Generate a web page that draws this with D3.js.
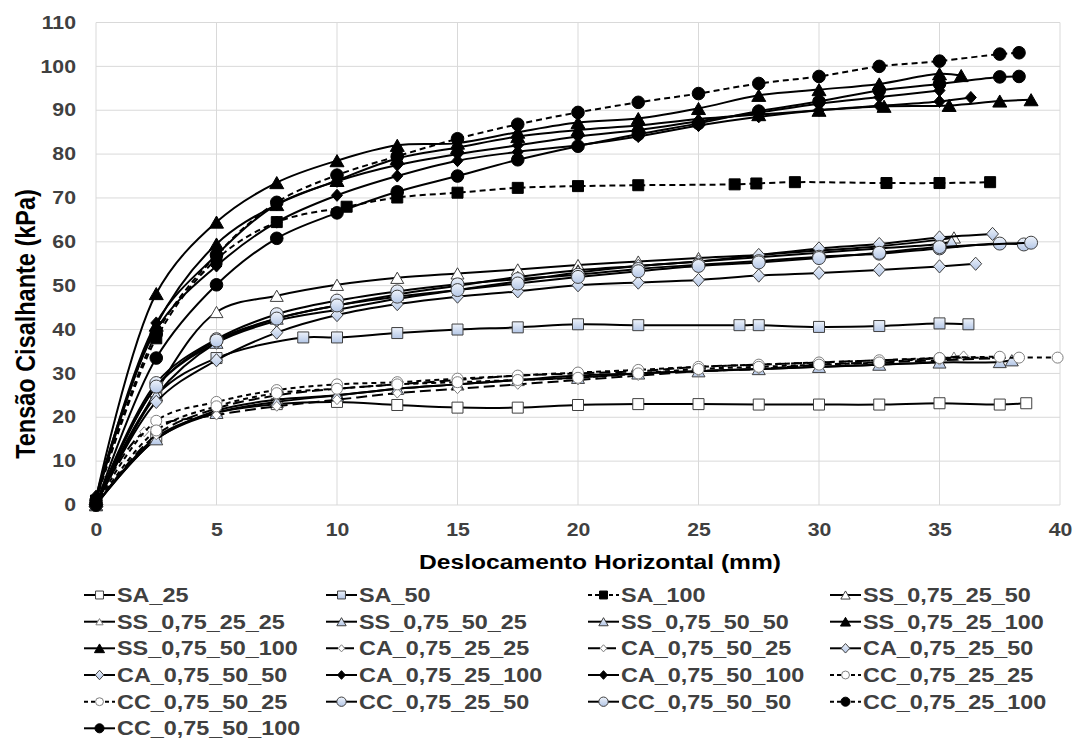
<!DOCTYPE html>
<html><head><meta charset="utf-8">
<script src="https://cdn.jsdelivr.net/npm/d3@7"></script>
<style>body{margin:0;background:#fff}svg{display:block}</style>
</head><body>
<svg id="chart" width="1074" height="740"></svg>
<script>
// ---------- DATA (x = deslocamento mm, y = tensão kPa) ----------
const SA_25 = [[0,0],[2.5,15.5],[5,21],[7.5,23],[10,23.5],[12.5,22.8],[15,22.2],[17.5,22.2],[20,22.8],[22.5,23],[25,23],[27.5,22.9],[30,22.9],[32.5,22.9],[35,23.2],[37.5,22.9],[38.6,23.2]];
const SA_50 = [[0,0],[2.5,25],[5,33.5],[8.6,38.2],[10,38.2],[12.5,39.2],[15,40],[17.5,40.5],[20,41.2],[22.5,41],[26.7,41],[27.5,41],[30,40.6],[32.5,40.8],[35,41.4],[36.2,41.2]];
const SA_100 = [[0,1],[2.5,38],[5,56],[7.5,64.5],[10.4,68],[12.5,70.1],[15,71.2],[17.5,72.3],[20,72.7],[22.5,72.9],[26.5,73.1],[27.4,73.3],[29,73.6],[32.8,73.4],[35,73.4],[37.1,73.6]];
const SS_0_75_25_50 = [[0,0],[2.5,26],[5,44],[7.5,47.7],[10,50.2],[12.5,51.8],[15,52.8],[17.5,53.7],[20,54.7],[22.5,55.5],[25,56.3],[27.5,57],[30,58],[32.5,59],[35,60.5],[35.6,61]];
const SS_0_75_25_25 = [[0,0],[2.5,15],[5,21.5],[7.5,24],[10,25],[12.5,26.5],[15,27.5],[17.5,28.5],[20,29.5],[22.5,30],[25,30.5],[27.5,31],[30,31.5],[32.5,32],[35,32.8],[35.6,33.9]];
const SS_0_75_50_25 = [[0,0],[2.5,15],[5,21],[7.5,23.5],[10,25],[12.5,26.5],[15,27.5],[17.5,28.5],[20,29],[22.5,30],[25,30.5],[27.5,31],[30,31.5],[32.5,32],[35,32.5],[37.5,32.6],[38,33]];
const SS_0_75_50_50 = [[0,0],[2.5,25],[5,37],[7.5,42.5],[10,45.5],[12.5,48],[15,50],[17.5,52],[20,53.5],[22.5,54.5],[25,55.5],[27.5,56.5],[30,57.5],[32.5,58.5],[35,59.5],[35.5,60]];
const SS_0_75_25_100 = [[0,1.5],[2.5,48.2],[5,64.5],[7.5,73.5],[10,78.5],[12.5,82],[15,82.5],[17.5,85],[20,87.2],[22.5,88.1],[25,90.4],[27.5,93.4],[30,94.7],[32.5,96],[35,98.3],[35.9,97.9]];
const SS_0_75_50_100 = [[0,1],[2.5,41],[5,59.5],[7.5,68.5],[10,74],[12.5,79],[15,81.5],[17.5,84],[20,85.5],[22.5,86.5],[25,88],[27.5,89],[30,90],[32.7,90.9],[35.4,91.1],[37.5,92.1],[38.8,92.4]];
const CA_0_75_25_25 = [[0,0],[2.5,16],[5,22],[7.5,25],[10,26.5],[12.5,27.5],[15,28.5],[17.5,29.5],[20,30],[22.5,30.5],[25,31.5],[27.5,32],[30,32.5],[32.5,33],[35,33.5],[36,34]];
const CA_0_75_50_25 = [[0,0],[2,16.7],[5,20.5],[7.5,22.5],[10,24],[12.5,25.5],[15,26.5],[17.5,27.5],[20,28.5],[22.5,29.5],[25,30.5],[27.5,31],[30,32],[32.5,32.5],[35,33],[37.5,33.5]];
const CA_0_75_25_50 = [[0,0],[2.5,27],[5,37],[7.5,42],[10,44.5],[12.5,47],[15,49],[17.5,51],[20,53],[22.5,54.5],[25,55.5],[27.5,57],[30,58.5],[32.5,59.5],[35,61],[37.2,61.8]];
const CA_0_75_50_50 = [[0,0],[2.5,23.5],[5,33],[7.5,39.3],[10,43.3],[12.5,45.8],[15,47.5],[17.5,48.7],[20,50.1],[22.5,50.7],[25,51.3],[27.5,52.3],[30,52.9],[32.5,53.6],[35,54.4],[36.5,55]];
const CA_0_75_25_100 = [[0,2],[2.5,40],[5,54.5],[7.5,64.5],[10,70.6],[12.5,75],[15,78.5],[17.5,80.5],[20,82],[22.5,84],[25,86.5],[27.5,88.5],[30,90],[32.5,91],[35,92],[36.3,92.9]];
const CA_0_75_50_100 = [[0,1],[2.5,41.5],[5,57],[7.5,68.5],[10,73.8],[12.5,77.5],[15,80],[17.5,82],[20,84],[22.5,85.5],[25,87.5],[27.5,89.5],[30,91.5],[32.5,93],[35,94.5]];
const CC_0_75_25_25 = [[0,0],[2.5,19.2],[5,23.5],[7.5,26.2],[10,27.5],[12.5,28],[15,28.8],[17.5,29.5],[20,30.2],[22.5,30.8],[25,31.5],[27.5,32],[30,32.5],[32.5,33],[35,33.5],[38.3,33.6],[39.9,33.6]];
const CC_0_75_50_25 = [[0,0],[2.5,17],[5,22.5],[7.5,25.5],[10,26.5],[12.5,27.5],[15,28],[17.5,28.5],[20,29],[22.5,30],[25,31],[27.5,31.5],[30,32],[32.5,32.5],[35,33.5],[37.5,33.8]];
const CC_0_75_25_50 = [[0,0],[2.5,27.8],[5,37.8],[7.5,43.5],[10,46.6],[12.5,48.7],[15,50.3],[17.5,51.5],[20,52.5],[22.5,53.8],[25,54.8],[27.5,55.6],[30,56.6],[32.5,57.3],[35,58.5],[37.5,59.6],[38.5,59.4]];
const CC_0_75_50_50 = [[0,0],[2.5,27],[5,37.5],[7.5,42.5],[10,45.5],[12.5,47.5],[15,49],[17.5,50.5],[20,52],[22.5,53.3],[25,54.5],[27.5,55.3],[30,56.3],[32.5,57.5],[35,58.8],[38.8,59.8]];
const CC_0_75_25_100 = [[0,1],[2.5,39],[5,57],[7.5,69],[10,75.2],[12.5,79.5],[15,83.5],[17.5,86.8],[20,89.5],[22.5,91.8],[25,93.8],[27.5,96.1],[30,97.7],[32.5,100],[35,101.2],[37.5,102.8],[38.3,103.1]];
const CC_0_75_50_100 = [[0,0],[2.5,33.5],[5,50.2],[7.5,60.8],[10,66.6],[12.5,71.4],[15,75],[17.5,78.7],[20,81.8],[22.5,84.5],[25,87],[27.5,89.8],[30,92],[32.5,94.5],[35,96],[37.5,97.6],[38.3,97.7]];

const seriesNames = ["SA_25","SA_50","SA_100","SS_0,75_25_50","SS_0,75_25_25","SS_0,75_50_25","SS_0,75_50_50","SS_0,75_25_100","SS_0,75_50_100","CA_0,75_25_25","CA_0,75_50_25","CA_0,75_25_50","CA_0,75_50_50","CA_0,75_25_100","CA_0,75_50_100","CC_0,75_25_25","CC_0,75_50_25","CC_0,75_25_50","CC_0,75_50_50","CC_0,75_25_100","CC_0,75_50_100"];
const seriesData = [SA_25,SA_50,SA_100,SS_0_75_25_50,SS_0_75_25_25,SS_0_75_50_25,SS_0_75_50_50,SS_0_75_25_100,SS_0_75_50_100,CA_0_75_25_25,CA_0_75_50_25,CA_0_75_25_50,CA_0_75_50_50,CA_0_75_25_100,CA_0_75_50_100,CC_0_75_25_25,CC_0_75_50_25,CC_0_75_25_50,CC_0_75_50_50,CC_0_75_25_100,CC_0_75_50_100];
const xTicks = [0,5,10,15,20,25,30,35,40];
const yTicks = [0,10,20,30,40,50,60,70,80,90,100,110];
const xTitle = "Deslocamento Horizontal (mm)";
const yTitle = "Tensão Cisalhante (kPa)";

// ---------- STYLES (separate from data) ----------
// shape, fill kind, marker radius, plot dash, legend dash
const styles = [
  ["square","open",5.5,null,null],["square","blue",5.5,null,null],["square","black",5.5,"6,4","4,3"],["triangle","open",6.5,null,null],
  ["triangle","openSmall",5,null,null],["triangle","blue",6.5,null,null],["triangle","blue",6.5,null,null],["triangle","black",7,null,null],
  ["triangle","black",7,null,null],["diamond","openSmall",4.5,"11,5","12,4"],["diamond","openSmall",4.5,"11,5","12,4"],["diamond","blue",6,null,null],
  ["diamond","blue",6,null,null],["diamond","black",5.5,null,null],["diamond","black",5.5,null,null],["circle","openSmall",5.5,"5,4","4,3"],
  ["circle","openSmall",5.5,"5,4","4,3"],["circle","blue",6.5,null,null],["circle","blue",6.5,null,null],["circle","black",6.3,"6,4","4,3"],
  ["circle","black",6.3,null,null]
];

const SX = 1.2; // horizontal stretch of the original picture
const FONT = "'Liberation Sans', Arial, sans-serif";
const svg = d3.select("#chart");
const defs = svg.append("defs");
const grad = defs.append("linearGradient").attr("id","blueG").attr("x1","0").attr("y1","0").attr("x2","0").attr("y2","1");
grad.append("stop").attr("offset","0").attr("stop-color","#eef3fb");
grad.append("stop").attr("offset","1").attr("stop-color","#b3c6e6");

const x = d3.scaleLinear().domain([0,40]).range([96,1060]);
const y = d3.scaleLinear().domain([0,110]).range([505,22.5]);

// grid
const grid = svg.append("g");
grid.selectAll("line.v").data(xTicks).join("line")
  .attr("x1",d=>x(d)).attr("x2",d=>x(d)).attr("y1",y(0)).attr("y2",y(110))
  .attr("stroke","#d9d9d9").attr("stroke-width",1);
grid.selectAll("line.h").data(yTicks).join("line")
  .attr("x1",x(0)).attr("x2",x(40)).attr("y1",d=>y(d)).attr("y2",d=>y(d))
  .attr("stroke","#d9d9d9").attr("stroke-width",1);

// axes (labels only)
const yAxis = svg.append("g").attr("transform",`translate(${x(0)},0)`)
  .call(d3.axisLeft(y).tickValues(yTicks).tickSize(0).tickPadding(20/SX));
const xAxis = svg.append("g").attr("transform",`translate(0,${y(0)})`)
  .call(d3.axisBottom(x).tickValues(xTicks).tickSize(0).tickPadding(18));
[yAxis,xAxis].forEach(a=>{
  a.select(".domain").remove();
  a.selectAll("text").attr("font-family",FONT).attr("font-weight","bold").attr("font-size","17.7px")
   .attr("fill","#404040");
});
yAxis.selectAll("text").attr("transform",`scale(${SX},1)`);
xAxis.selectAll("text").attr("transform",`scale(${SX},1)`);

function sText(px,py,str,size,anchor,color,rot){
  const g = svg.append("g").attr("transform",`translate(${px},${py}) scale(${SX},1)`+(rot?" rotate(-90)":""));
  return g.append("text").text(str).attr("text-anchor",anchor).attr("font-family",FONT)
    .attr("font-weight","bold").attr("font-size",size+"px").attr("fill",color);
}
sText(600,569,xTitle,20.5,"middle","#000",false);
sText(35,324,yTitle,23.5,"middle","#000",true);

function markerPath(shape,r){
  if(shape==="square") return `M${-r},${-r}h${2*r}v${2*r}h${-2*r}Z`;
  if(shape==="diamond") return `M0,${-r*1.1}L${r},0L0,${r*1.1}L${-r},0Z`;
  if(shape==="triangle"){const h=2*r*0.866;return `M0,${-h/2}L${r},${h/2}L${-r},${h/2}Z`;}
  return `M${-r},0A${r},${r} 0 1,0 ${r},0A${r},${r} 0 1,0 ${-r},0Z`;
}
function fillOf(k){return k==="black"?"#000":k==="blue"?"url(#blueG)":"#fff";}
function strokeOf(k){return k==="black"?"#000":k==="openSmall"?"#7f7f7f":"#404040";}

const line = d3.line().x(d=>x(d[0])).y(d=>y(d[1])).curve(d3.curveCatmullRom.alpha(0.5));
const plot = svg.append("g");
seriesData.forEach((data,i)=>{
  const [shape,kind,r,dash] = styles[i];
  const g = plot.append("g");
  g.append("path").datum(data).attr("d",line).attr("fill","none").attr("stroke","#000")
    .attr("stroke-width",2).attr("stroke-dasharray",dash);
  g.selectAll("path.m").data(data).join("path").attr("class","m")
    .attr("transform",d=>`translate(${x(d[0])},${y(d[1])})`)
    .attr("d",markerPath(shape,r)).attr("fill",fillOf(kind)).attr("stroke",strokeOf(kind))
    .attr("stroke-width",1);
});

// legend
const colX = [84,326,588,830];
const rowY = [595,621.7,648.3,675,701.7,728.3];
seriesNames.forEach((name,i)=>{
  const [shape,kind,r,dash,ldash] = styles[i];
  const cx = colX[i%4], cy = rowY[Math.floor(i/4)];
  const g = svg.append("g").attr("transform",`translate(${cx},${cy})`);
  g.append("line").attr("x1",0).attr("x2",31).attr("y1",0).attr("y2",0).attr("stroke","#000")
    .attr("stroke-width",2).attr("stroke-dasharray",ldash);
  g.append("path").attr("transform","translate(15.5,0)").attr("d",markerPath(shape,r*0.72))
    .attr("fill",fillOf(kind)).attr("stroke",strokeOf(kind)).attr("stroke-width",1);
  sText(cx+33,cy+7,name,19.5,"start","#404040",false);
});
</script>
</body></html>
